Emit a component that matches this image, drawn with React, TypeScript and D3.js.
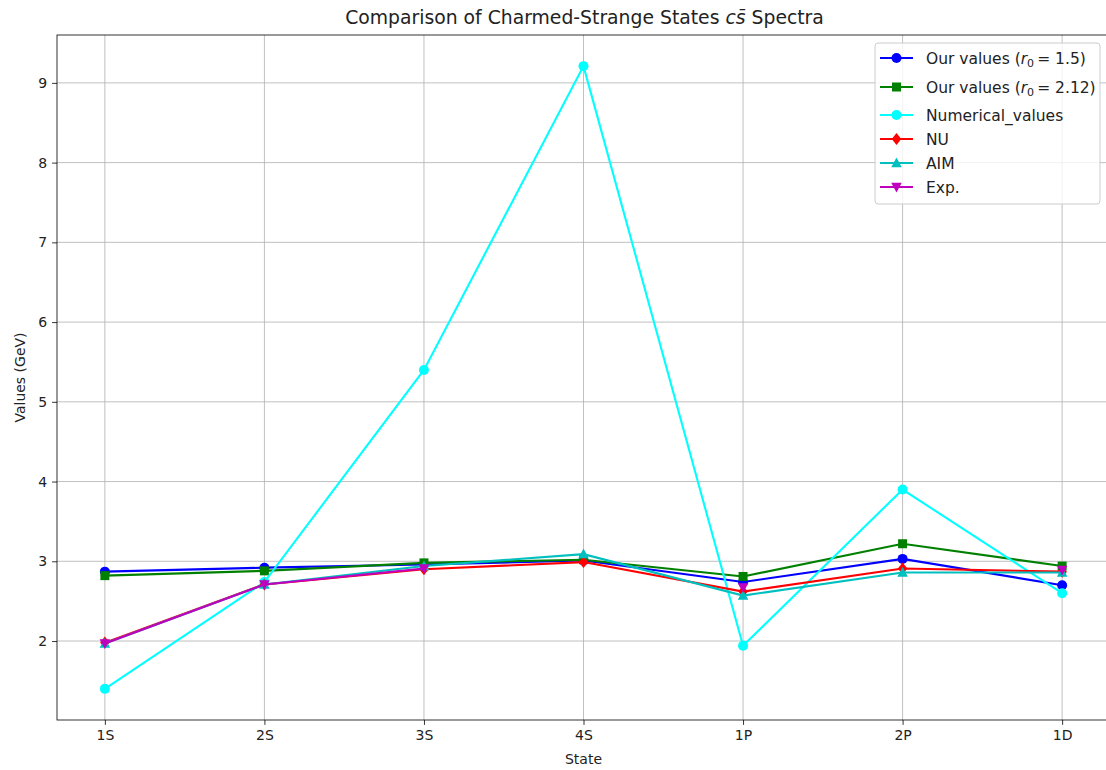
import React, { useEffect, useRef } from "react";
import * as d3 from "d3";

const states = ["1S", "2S", "3S", "4S", "1P", "2P", "1D"];

const ourR15 = [2.87, 2.92, 2.96, 3.01, 2.74, 3.03, 2.7];
const ourR212 = [2.82, 2.88, 2.98, 3.02, 2.81, 3.22, 2.94];
const numerical = [1.4, 2.74, 5.4, 9.21, 1.94, 3.9, 2.6];
const nu = [1.98, 2.71, 2.9, 2.99, 2.62, 2.91, 2.87];
const aim = [1.97, 2.71, 2.94, 3.09, 2.57, 2.86, 2.86];
const expVals = [1.97, 2.71, 2.91, NaN, 2.67, NaN, 2.89];

const series = [
  { name: "ourR15", values: ourR15, color: "#0000ff", marker: "circle" },
  { name: "ourR212", values: ourR212, color: "#008000", marker: "square" },
  { name: "Numerical_values", values: numerical, color: "#00ffff", marker: "circle" },
  { name: "NU", values: nu, color: "#ff0000", marker: "diamond" },
  { name: "AIM", values: aim, color: "#00bfbf", marker: "triangle" },
  { name: "Exp.", values: expVals, color: "#bf00bf", marker: "triangleDown" },
];

const yTicks = [2, 3, 4, 5, 6, 7, 8, 9];

const FONT = "'DejaVu Sans', sans-serif";
const MS = 10;

function markerPath(kind, size) {
  const r = size / 2;
  if (kind === "square") return `M${-r * 0.9},${-r * 0.9}h${r * 1.8}v${r * 1.8}h${-r * 1.8}Z`;
  if (kind === "diamond") return `M0,${-r * 1.2}L${r * 0.95},0L0,${r * 1.2}L${-r * 0.95},0Z`;
  if (kind === "triangle") return `M0,${-r * 1.1}L${r * 1.05},${r * 0.85}L${-r * 1.05},${r * 0.85}Z`;
  if (kind === "triangleDown") return `M0,${r * 1.1}L${r * 1.05},${-r * 0.85}L${-r * 1.05},${-r * 0.85}Z`;
  return d3.arc()({ innerRadius: 0, outerRadius: r, startAngle: 0, endAngle: 2 * Math.PI });
}

export default function App() {
  const svgRef = useRef(null);

  useEffect(() => {
    document.body.style.margin = "0";
    const svg = d3.select(svgRef.current);
    svg.selectAll("*").remove();

    const W = 1106,
      H = 770;
    const margin = { top: 35, right: -4, bottom: 50, left: 57 };
    const left = margin.left,
      right = W - margin.right,
      top = margin.top,
      bottom = H - margin.bottom;

    const x = d3.scaleLinear().domain([-0.3, states.length - 1 + 0.3]).range([left, right]);

    const all = series.flatMap((s) => s.values).filter((v) => !isNaN(v));
    const [mn, mx] = d3.extent(all);
    const pad = (mx - mn) * 0.05;
    const y = d3.scaleLinear().domain([mn - pad, mx + pad]).range([bottom, top]);

    svg.append("rect").attr("width", W).attr("height", H).attr("fill", "#fff");

    // grid
    const grid = svg.append("g").attr("stroke", "#b0b0b0").attr("stroke-width", 0.8);
    states.forEach((s, i) => {
      grid.append("line").attr("x1", x(i)).attr("x2", x(i)).attr("y1", top).attr("y2", bottom);
    });
    yTicks.forEach((t) => {
      grid.append("line").attr("x1", left).attr("x2", right).attr("y1", y(t)).attr("y2", y(t));
    });

    // axes
    const xAxis = svg
      .append("g")
      .attr("transform", `translate(0,${bottom})`)
      .call(
        d3
          .axisBottom(x)
          .tickValues(d3.range(states.length))
          .tickFormat((i) => states[i])
          .tickSize(4.9)
          .tickPadding(4.9)
      );
    const yAxis = svg
      .append("g")
      .attr("transform", `translate(${left},0)`)
      .call(d3.axisLeft(y).tickValues(yTicks).tickSize(4.9).tickPadding(4.9));
    [xAxis, yAxis].forEach((g) => {
      g.select(".domain").remove();
      g.selectAll("line").attr("stroke", "#000").attr("stroke-width", 0.8);
      g.selectAll("text").attr("fill", "#222").style("font-family", FONT).style("font-size", "14px");
    });

    svg
      .append("rect")
      .attr("x", left)
      .attr("y", top)
      .attr("width", right - left)
      .attr("height", bottom - top)
      .attr("fill", "none")
      .attr("stroke", "#000")
      .attr("stroke-width", 0.8);

    // lines
    const line = d3
      .line()
      .defined((d) => !isNaN(d))
      .x((d, i) => x(i))
      .y((d) => y(d));

    series.forEach((s) => {
      const g = svg.append("g");
      g.append("path")
        .attr("d", line(s.values))
        .attr("fill", "none")
        .attr("stroke", s.color)
        .attr("stroke-width", 2.1);
      g.selectAll("path.m")
        .data(s.values.map((v, i) => ({ v, i })).filter((d) => !isNaN(d.v)))
        .join("path")
        .attr("class", "m")
        .attr("transform", (d) => `translate(${x(d.i)},${y(d.v)})`)
        .attr("d", markerPath(s.marker, MS))
        .attr("fill", s.color);
    });

    // title and labels
    const title = svg
      .append("text")
      .attr("x", (left + Math.min(right, W)) / 2 + 3)
      .attr("y", 24)
      .attr("text-anchor", "middle")
      .style("font-family", FONT)
      .style("font-size", "18.8px")
      .attr("fill", "#222");
    title.append("tspan").text("Comparison of Charmed-Strange States ");
    title.append("tspan").attr("font-style", "italic").text("cs\u0304");
    title.append("tspan").text(" Spectra");

    svg
      .append("text")
      .attr("x", x(3))
      .attr("y", 764)
      .attr("text-anchor", "middle")
      .style("font-family", FONT)
      .style("font-size", "14px")
      .attr("fill", "#222")
      .text("State");

    svg
      .append("text")
      .attr("transform", `translate(25,${(top + bottom) / 2}) rotate(-90)`)
      .attr("text-anchor", "middle")
      .style("font-family", FONT)
      .style("font-size", "14px")
      .attr("fill", "#222")
      .text("Values (GeV)");

    // legend
    const lg = svg.append("g").attr("transform", "translate(875,43)");
    lg.append("rect")
      .attr("width", 225)
      .attr("height", 161)
      .attr("rx", 3)
      .attr("fill", "rgba(255,255,255,0.8)")
      .attr("stroke", "#cccccc")
      .attr("stroke-width", 1);
    const rowY = [15, 44, 72, 96, 120, 144];
    series.forEach((s, k) => {
      const ry = rowY[k];
      lg.append("line")
        .attr("x1", 5)
        .attr("x2", 38)
        .attr("y1", ry)
        .attr("y2", ry)
        .attr("stroke", s.color)
        .attr("stroke-width", 2.1);
      lg.append("path")
        .attr("transform", `translate(21.5,${ry})`)
        .attr("d", markerPath(s.marker, MS))
        .attr("fill", s.color);
      const t = lg
        .append("text")
        .attr("x", 51)
        .attr("y", ry + 5.5)
        .style("font-family", FONT)
        .style("font-size", "15.5px")
        .attr("fill", "#222");
      if (k < 2) {
        t.append("tspan").text("Our values (");
        t.append("tspan").attr("font-style", "italic").text("r");
        t.append("tspan").attr("dy", 3).style("font-size", "11px").text("0");
        t.append("tspan").attr("dy", -3).text(k === 0 ? "\u2009= 1.5)" : "\u2009= 2.12)");
      } else {
        t.text(s.name);
      }
    });
  }, []);

  return (
    <div style={{ width: 1106, height: 770 }}>
      <svg ref={svgRef} width={1106} height={770}></svg>
    </div>
  );
}
